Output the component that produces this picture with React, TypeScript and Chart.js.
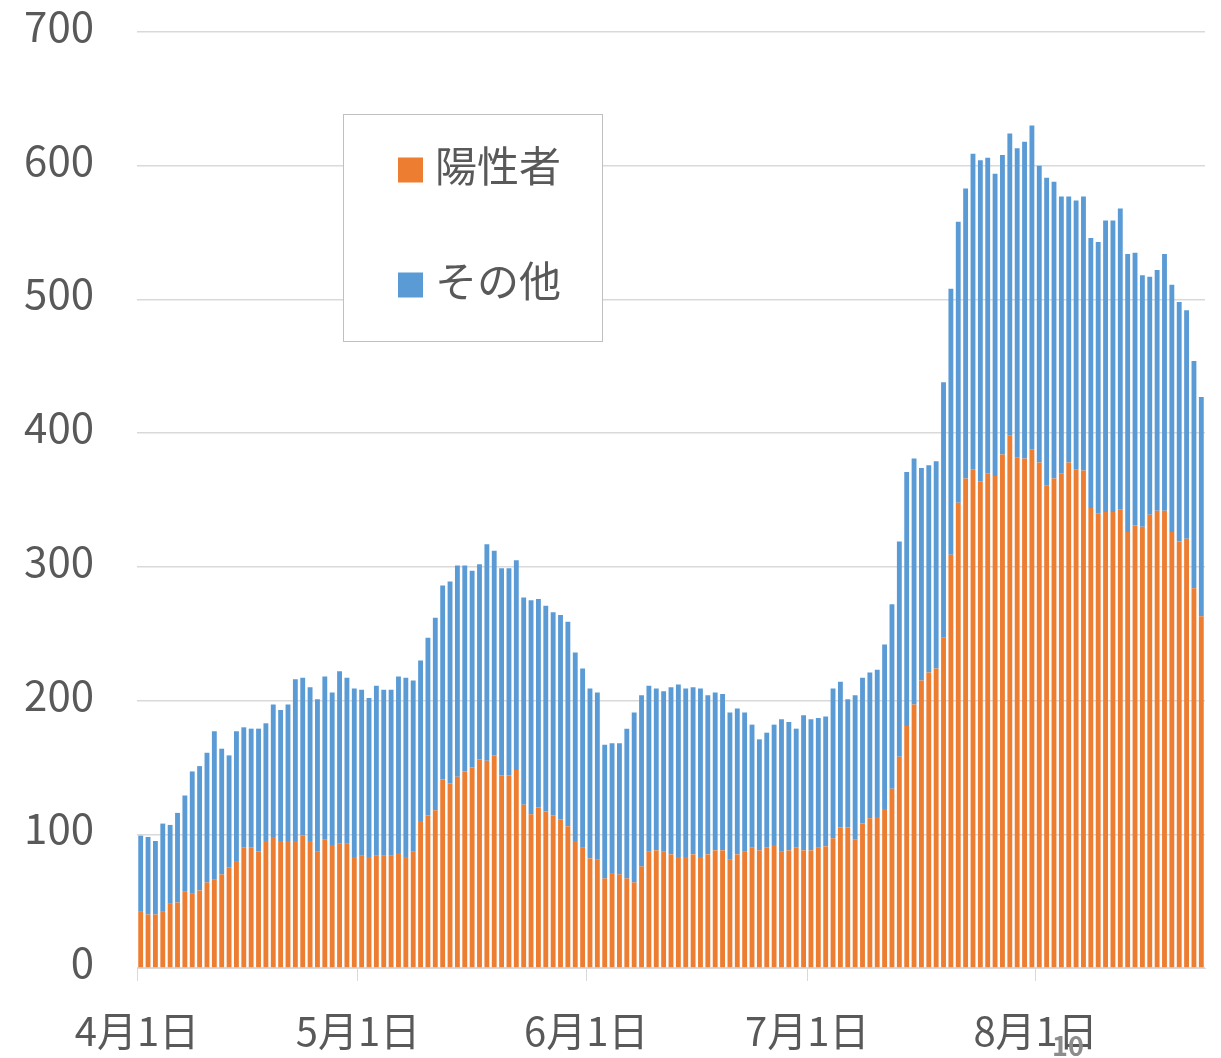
import React, { useEffect, useRef } from "react";
import { Chart, registerables } from "chart.js";

Chart.register(...registerables);

// Date categories: 4月1日 .. 8月23日 (145 days)
const MONTHS = [4, 5, 6, 7, 8];
const MONTH_DAYS = [30, 31, 30, 31, 31];
const DAY_COUNT = 145;

function buildDates(): string[] {
  const out: string[] = [];
  let mi = 0;
  let d = 1;
  for (let i = 0; i < DAY_COUNT; i++) {
    out.push(`${MONTHS[mi]}月${d}日`);
    d++;
    if (d > MONTH_DAYS[mi]) {
      mi++;
      d = 1;
    }
  }
  return out;
}
const dates = buildDates();

const positiveLabel = "陽性者";
const otherLabel = "その他";

// 陽性者 (bottom, orange)
const positive = [
  42, 40, 40, 42, 48, 49, 57, 56, 58, 64, 66, 70, 75, 80, 90, 90, 87, 95, 98, 95,
  95, 95, 99, 95, 87, 96, 92, 93, 93, 83, 84, 83, 84, 84, 84, 86, 83, 87, 110, 114,
  118, 141, 138, 143, 147, 150, 156, 155, 159, 144, 144, 148, 122, 115, 120, 117, 114, 111, 106, 95,
  90, 82, 81, 67, 71, 70, 67, 64, 76, 87, 88, 87, 85, 83, 83, 85, 83, 85, 88, 88,
  81, 85, 87, 90, 88, 90, 92, 87, 88, 90, 88, 88, 90, 91, 97, 105, 105, 96, 108, 112,
  113, 119, 134, 158, 181, 197, 215, 221, 224, 247, 309, 348, 366, 373, 364, 370, 368, 384, 398, 382,
  381, 388, 378, 361, 366, 370, 378, 373, 372, 344, 340, 341, 341, 343, 326, 331, 330, 339, 342, 342,
  326, 319, 321, 284, 263,
];

// その他 (stacked on top, blue)
const other = [
  57, 58, 55, 66, 59, 67, 72, 91, 93, 97, 111, 94, 84, 97, 90, 89, 92, 88, 99, 98,
  102, 121, 118, 115, 114, 122, 114, 129, 124, 126, 124, 119, 127, 124, 124, 132, 134, 128, 120, 133,
  144, 145, 151, 158, 154, 147, 146, 162, 153, 155, 155, 157, 155, 160, 156, 154, 152, 153, 153, 141,
  134, 127, 125, 100, 97, 98, 112, 127, 128, 124, 121, 120, 125, 129, 126, 125, 126, 119, 118, 117,
  110, 109, 104, 92, 83, 86, 90, 99, 96, 89, 101, 98, 97, 97, 112, 109, 96, 108, 109, 109,
  110, 123, 138, 161, 190, 184, 159, 155, 155, 191, 199, 210, 217, 236, 240, 236, 226, 224, 226, 231,
  237, 242, 222, 230, 222, 207, 199, 201, 205, 202, 203, 218, 218, 225, 208, 204, 188, 178, 180, 192,
  185, 179, 171, 170, 164,
];

const yTicks = [0, 100, 200, 300, 400, 500, 600, 700];
const pageNumber = "10";

const ORANGE = "#ED7D31";
const BLUE = "#5B9BD5";
const TEXT = "#595959";
const GRID = "#D9D9D9";
const FONT = "'Noto Sans CJK JP', 'Noto Sans', sans-serif";

const isMonthStart = (i: number) => /月1日$/.test(dates[i] ?? "");

const legendPlugin = {
  id: "boxLegend",
  afterDraw(chart: any) {
    const ctx = chart.ctx as CanvasRenderingContext2D;
    ctx.save();
    ctx.fillStyle = "#FFFFFF";
    ctx.fillRect(343, 114, 260, 227);
    ctx.strokeStyle = "#BFBFBF";
    ctx.lineWidth = 1;
    ctx.strokeRect(343.5, 114.5, 259, 227);
    const items = chart.data.datasets.map((ds: any) => ({
      label: ds.label,
      color: ds.backgroundColor,
    }));
    const rows = [170, 285];
    ctx.font = `42px ${FONT}`;
    ctx.textBaseline = "middle";
    ctx.textAlign = "left";
    items.forEach((it: any, k: number) => {
      const cy = rows[k];
      ctx.fillStyle = it.color;
      ctx.fillRect(398, cy - 12.5, 25, 25);
      ctx.fillStyle = TEXT;
      ctx.fillText(it.label, 435, cy - 4);
    });
    ctx.font = `bold 27px ${FONT}`;
    ctx.fillStyle = "#8C8C8C";
    ctx.textAlign = "center";
    ctx.fillText(pageNumber, 1068, 1046);
    ctx.restore();
  },
};

export default function App() {
  const ref = useRef<HTMLCanvasElement | null>(null);

  useEffect(() => {
    if (!ref.current) return;
    const chart = new Chart(ref.current, {
      type: "bar",
      data: {
        labels: dates,
        datasets: [
          {
            label: positiveLabel,
            data: positive,
            backgroundColor: ORANGE,
            borderWidth: 0,
            barPercentage: 0.66,
            categoryPercentage: 1,
            stack: "s",
          },
          {
            label: otherLabel,
            data: other,
            backgroundColor: BLUE,
            borderWidth: 0,
            barPercentage: 0.66,
            categoryPercentage: 1,
            stack: "s",
          },
        ],
      },
      plugins: [legendPlugin],
      options: {
        responsive: false,
        animation: false,
        layout: { autoPadding: false, padding: { top: 32, right: 16, left: 0, bottom: 0 } },
        plugins: {
          legend: { display: false },
          tooltip: { enabled: false },
          title: { display: false },
        },
        scales: {
          x: {
            stacked: true,
            offset: true,
            afterFit: (s: any) => {
              s.height = 90;
              s.paddingLeft = 0;
              s.paddingRight = 0;
            },
            border: { display: true, color: GRID, width: 1 },
            grid: {
              offset: true,
              drawOnChartArea: false,
              drawTicks: true,
              tickLength: 13,
              color: (c: any) => (isMonthStart(c.index) ? GRID : "rgba(0,0,0,0)"),
            },
            ticks: {
              autoSkip: false,
              maxRotation: 0,
              minRotation: 0,
              padding: 26,
              labelOffset: -3.7,
              color: TEXT,
              font: { family: FONT, size: 40 },
              callback: (_v: any, i: number) => (isMonthStart(i) ? dates[i] : ""),
            },
          },
          y: {
            stacked: true,
            min: 0,
            max: 700,
            afterFit: (s: any) => {
              s.width = 137;
              s.paddingTop = 0;
              s.paddingBottom = 0;
            },
            afterBuildTicks: (s: any) => {
              s.ticks = yTicks.map((v) => ({ value: v }));
            },
            border: { display: false },
            grid: { color: GRID, lineWidth: 1.5, drawTicks: false },
            ticks: {
              padding: 43,
              labelOffset: -6,
              color: TEXT,
              font: { family: FONT, size: 42 },
            },
          },
        },
      },
    });
    return () => chart.destroy();
  }, []);

  return (
    <div style={{ position: "absolute", left: 0, top: 0, width: 1221, height: 1058 }}>
      <canvas ref={ref} width={1221} height={1058} />
    </div>
  );
}
